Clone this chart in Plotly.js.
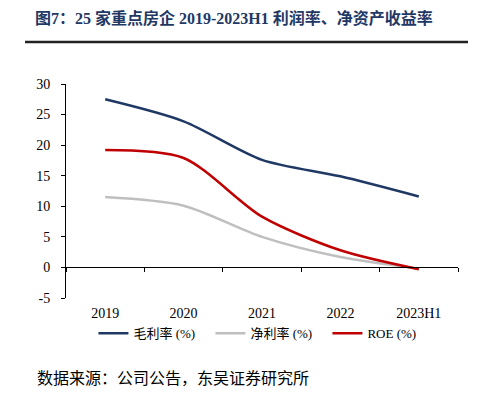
<!DOCTYPE html>
<html>
<head>
<meta charset="utf-8">
<script src="https://cdn.plot.ly/plotly-3.0.1.min.js"></script>
<style>html,body{margin:0;padding:0;background:#fff;}#chart{width:480px;height:393px;}</style>
</head>
<body>
<div id="chart"></div>
<script>
const categories = ["2019", "2020", "2021", "2022", "2023H1"];
const grossMargin = [27.5, 23.9, 17.6, 14.9, 11.6];
const netMargin = [11.5, 10.1, 5.0, 1.7, -0.2];
const roe = [19.2, 17.9, 8.3, 2.8, -0.3];
const seriesNames = ["毛利率 (%)", "净利率 (%)", "ROE (%)"];
const seriesColors = ["#1F3864", "#BFBFBF", "#C00000"];
const yTicks = [-5, 0, 5, 10, 15, 20, 25, 30];
const yTickLabels = ["-5", "0", "5", "10", "15", "20", "25", "30"];

const serif = '"Liberation Serif", "Times New Roman", "Noto Sans CJK SC", serif';
const values = [grossMargin, netMargin, roe];
const traces = values.map((v, i) => ({
  x: categories, y: v, type: 'scatter', mode: 'lines', name: seriesNames[i],
  line: {color: seriesColors[i], width: 2.5, shape: 'spline', smoothing: 0.8},
  xaxis: 'x', yaxis: 'y'
}));
// helper axis at y=0 carrying the boundary ticks
traces.push({x: categories, y: categories.map(() => null), type: 'scatter', mode: 'lines',
  xaxis: 'x2', yaxis: 'y', showlegend: false, hoverinfo: 'skip'});

const layout = {
  width: 480, height: 393,
  margin: {l: 66, r: 22, t: 84, b: 95},
  paper_bgcolor: '#fff', plot_bgcolor: '#fff',
  showlegend: true,
  title: {text: '<b>图7：25 家重点房企 2019-2023H1 利润率、净资产收益率</b>',
    font: {family: serif, size: 16, color: '#1F3864'},
    x: 35/480, xanchor: 'left', xref: 'container', y: 1 - 18/393, yref: 'container', yanchor: 'middle'},
  xaxis: {type: 'category', range: [-0.5, 4.5], showline: false, ticks: 'outside', ticklen: 2,
    tickcolor: 'rgba(0,0,0,0)', showgrid: false, zeroline: false,
    tickfont: {family: serif, size: 14, color: '#000'}},
  xaxis2: {type: 'category', range: [-0.5, 4.5], overlaying: 'x', anchor: 'free', position: 5/35,
    showline: true, linecolor: '#000', linewidth: 1, ticks: 'outside', tickson: 'boundaries',
    ticklen: 4, tickcolor: '#000', showticklabels: false, showgrid: false, zeroline: false},
  yaxis: {range: [-5, 30], tickvals: yTicks, ticktext: yTickLabels, showline: true, linecolor: '#000', linewidth: 1,
    ticks: 'outside', ticklen: 4, tickcolor: '#000', showgrid: false, zeroline: false,
    ticklabelstandoff: 8,
    tickfont: {family: serif, size: 14, color: '#000'}},
  legend: {orientation: 'h', x: 0.07, xanchor: 'left', y: -0.095, yanchor: 'top',
    font: {family: serif, size: 13, color: '#000'}, itemwidth: 30, traceorder: 'normal',
    entrywidth: 72, entrywidthmode: 'pixels', bgcolor: 'rgba(0,0,0,0)'},
  shapes: [{type: 'line', xref: 'paper', yref: 'paper', x0: (25-66)/392, x1: (468-66)/392,
    y0: (298-42)/214, y1: (298-42)/214, line: {color: '#222', width: 2.5}}],
  annotations: [{text: '数据来源：公司公告，东吴证券研究所', xref: 'paper', yref: 'paper',
    x: (35-66)/392, xanchor: 'left', y: (298-378)/214, yanchor: 'middle', showarrow: false,
    font: {family: serif, size: 16, color: '#000'}}]
};
Plotly.newPlot('chart', traces, layout, {staticPlot: true});
</script>
</body>
</html>
